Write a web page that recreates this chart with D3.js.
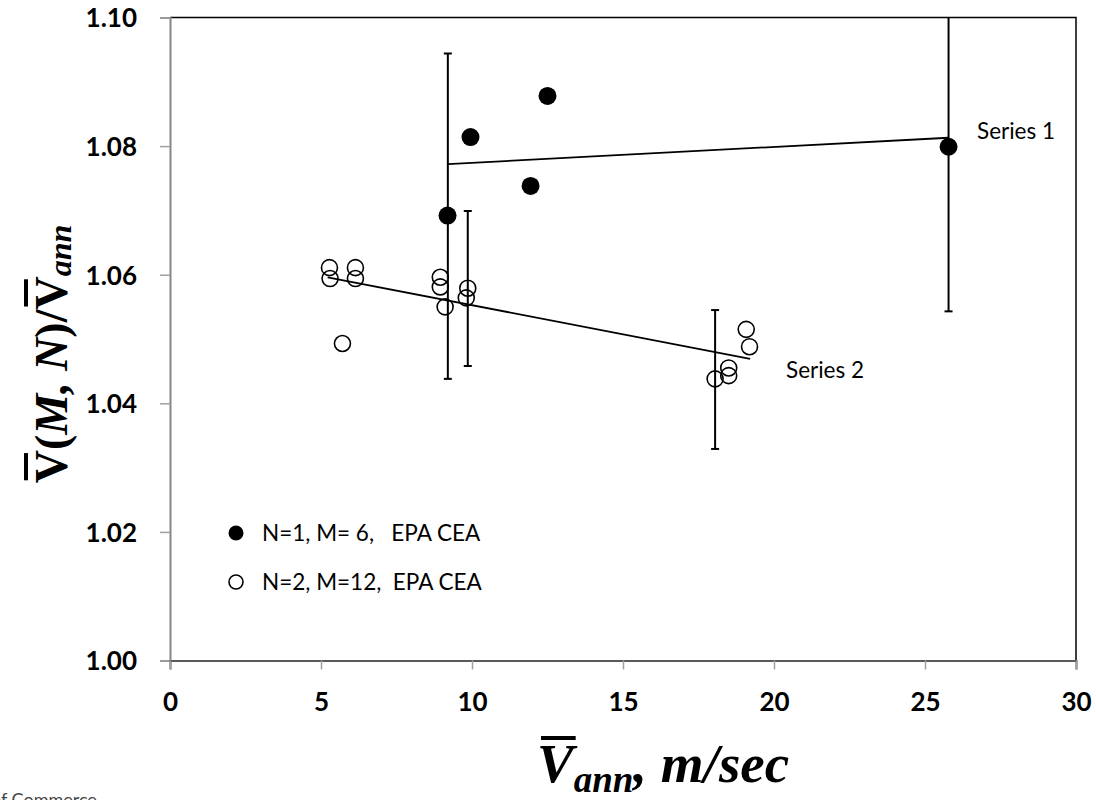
<!DOCTYPE html>
<html>
<head>
<meta charset="utf-8">
<script src="https://cdn.jsdelivr.net/npm/d3@7"></script>
<style>
  body { margin: 0; background: #fff; }
  svg { display: block; }
  .tick-label { font-family: Lato, "Open Sans", sans-serif; font-weight: bold; font-size: 26px; fill: #000; }
  .note { font-family: Lato, "Open Sans", sans-serif; font-size: 22.5px; fill: #000; white-space: pre; }
  .math { font-family: "Liberation Serif", "DejaVu Serif", serif; font-weight: bold; fill: #000; }
</style>
</head>
<body>
<svg id="chart" width="1096" height="800"></svg>
<script>
// values
const xTicks = [0, 5, 10, 15, 20, 25, 30];
const yTicks = [1.00, 1.02, 1.04, 1.06, 1.08, 1.10];

// N=1, M=6 (filled)
const s1X = [9.19, 9.95, 11.94, 12.5, 25.78];
const s1Y = [1.0692, 1.0814, 1.0738, 1.0878, 1.0799];
// N=2, M=12 (open)
const s2X = [5.28, 5.30, 6.14, 6.14, 5.71, 8.95, 8.95, 9.11, 9.86, 9.81, 19.08, 19.19, 18.5, 18.5, 18.05];
const s2Y = [1.0611, 1.0594, 1.0611, 1.0594, 1.0493, 1.0596, 1.0581, 1.0550, 1.0579, 1.0564, 1.0515, 1.0488, 1.0455, 1.0443, 1.0438];

// error bars
const err1X = [9.2, 25.78];
const err1Lo = [1.0438, 1.0543];
const err1Hi = [1.0944, 1.1055];
const err2X = [9.86, 18.05];
const err2Lo = [1.0458, 1.0329];
const err2Hi = [1.0699, 1.0545];

// trend lines (end points)
const trend1X = [9.2, 25.78];
const trend1Y = [1.0772, 1.0813];
const trend2X = [5.22, 19.21];
const trend2Y = [1.0596, 1.0469];

const legendLabels = ["N=1, M= 6,   EPA CEA", "N=2, M=12,  EPA CEA"];
const seriesNames = ["Series 1", "Series 2"];

const plot = {left: 170, right: 1076, top: 17.5, bottom: 660.5};

const svg = d3.select("#chart");

const x = d3.scaleLinear().domain([0, 30]).range([plot.left, plot.right]);
const y = d3.scaleLinear().domain([1.00, 1.10]).range([plot.bottom, plot.top]);

svg.append("clipPath").attr("id", "clip")
    .append("rect")
    .attr("x", plot.left).attr("y", plot.top)
    .attr("width", plot.right - plot.left).attr("height", plot.bottom - plot.top);

// frame: top and right borders
svg.append("path")
    .attr("d", `M${plot.left},${plot.top}H${plot.right}V${plot.bottom}`)
    .attr("fill", "none")
    .attr("stroke", "#000")
    .attr("stroke-width", 1.5);

// y axis
const yAxis = svg.append("g")
    .attr("transform", `translate(${plot.left},0)`)
    .call(d3.axisLeft(y).tickValues(yTicks).tickSize(10).tickFormat(d3.format(".2f")));
yAxis.select(".domain").attr("stroke", "#868686").attr("stroke-width", 2);
yAxis.selectAll(".tick line").attr("stroke", "#a0a0a0").attr("stroke-width", 1.5);
yAxis.selectAll(".tick text")
    .attr("class", "tick-label")
    .attr("x", -33)
    .attr("dy", "0.36em")
    .attr("font-family", null).attr("font-size", null);

// x axis
const xAxis = svg.append("g")
    .attr("transform", `translate(0,${plot.bottom})`)
    .call(d3.axisBottom(x).tickValues(xTicks).tickSize(9).tickFormat(d3.format("d")));
xAxis.select(".domain").attr("stroke", "#595959").attr("stroke-width", 2);
xAxis.selectAll(".tick line").attr("stroke", "#a0a0a0").attr("stroke-width", 1.5);
xAxis.selectAll(".tick text")
    .attr("class", "tick-label")
    .attr("y", 50)
    .attr("dy", 0)
    .attr("font-family", null).attr("font-size", null);

const g = svg.append("g").attr("clip-path", "url(#clip)");

// error bars
function drawErrors(xs, lo, hi) {
    const eb = g.append("g").selectAll("g")
        .data(xs.map((d, i) => ({x: d, lo: lo[i], hi: hi[i]})))
        .join("g");
    eb.append("line")
        .attr("x1", d => x(d.x)).attr("x2", d => x(d.x))
        .attr("y1", d => y(d.lo)).attr("y2", d => y(d.hi))
        .attr("stroke", "#000").attr("stroke-width", 2);
    ["lo", "hi"].forEach(k => {
        eb.append("line")
            .attr("x1", d => x(d.x) - 4).attr("x2", d => x(d.x) + 4)
            .attr("y1", d => y(d[k])).attr("y2", d => y(d[k]))
            .attr("stroke", "#000").attr("stroke-width", 2);
    });
}
drawErrors(err1X, err1Lo, err1Hi);
drawErrors(err2X, err2Lo, err2Hi);

// trend lines
const line = d3.line().x(d => x(d[0])).y(d => y(d[1]));
[[trend1X, trend1Y], [trend2X, trend2Y]].forEach(([xs, ys]) => {
    g.append("path")
        .datum(xs.map((d, i) => [d, ys[i]]))
        .attr("d", line)
        .attr("fill", "none")
        .attr("stroke", "#000")
        .attr("stroke-width", 1.8);
});

// open circles
g.append("g").selectAll("circle")
    .data(s2X.map((d, i) => [d, s2Y[i]]))
    .join("circle")
    .attr("cx", d => x(d[0])).attr("cy", d => y(d[1]))
    .attr("r", 8)
    .attr("fill", "none")
    .attr("stroke", "#000")
    .attr("stroke-width", 1.6);

// filled circles
g.append("g").selectAll("circle")
    .data(s1X.map((d, i) => [d, s1Y[i]]))
    .join("circle")
    .attr("cx", d => x(d[0])).attr("cy", d => y(d[1]))
    .attr("r", 9)
    .attr("fill", "#000");

// series labels
svg.append("text").attr("class", "note").attr("x", 977).attr("y", 139).text(seriesNames[0]);
svg.append("text").attr("class", "note").attr("x", 786).attr("y", 378).text(seriesNames[1]);

// legend
const legend = svg.append("g").attr("transform", "translate(236,533)");
legend.append("circle").attr("r", 7.5).attr("fill", "#000");
legend.append("circle").attr("cy", 49).attr("r", 7).attr("fill", "none").attr("stroke", "#000").attr("stroke-width", 1.6);
legend.selectAll("text.note")
    .data(legendLabels)
    .join("text")
    .attr("class", "note")
    .attr("x", 26)
    .attr("y", (d, i) => i * 49 + 8)
    .text(d => d);

// y axis title: V(M, N)/V_ann, rotated
const yTitle = svg.append("g").attr("transform", "translate(67,354) rotate(-90)");
const yt = yTitle.append("text").attr("class", "math").attr("text-anchor", "middle").attr("font-size", 46);
yt.append("tspan").text("V(");
yt.append("tspan").attr("font-style", "italic").text("M, N");
yt.append("tspan").text(")/V");
yt.append("tspan").attr("font-style", "italic").attr("font-size", 32).attr("dy", 4).text("ann");
[0, 8].forEach(i => {
    const b = yt.node().getExtentOfChar(i);
    yTitle.append("line")
        .attr("x1", b.x + 3).attr("x2", b.x + b.width - 3)
        .attr("y1", -41).attr("y2", -41)
        .attr("stroke", "#000").attr("stroke-width", 4);
});

// x axis title: V_ann, m/sec
const xTitle = svg.append("g").attr("transform", "translate(537,782)");
const xt = xTitle.append("text").attr("class", "math").attr("font-style", "italic").attr("font-size", 55);
xt.append("tspan").text("V");
xt.append("tspan").attr("font-size", 37).attr("dy", 10).text("ann");
xt.append("tspan").attr("dy", -10).text(", m/sec");
{
    const b = xt.node().getExtentOfChar(0);
    xTitle.append("line")
        .attr("x1", b.x + 4).attr("x2", b.x + b.width + 2)
        .attr("y1", -44).attr("y2", -44)
        .attr("stroke", "#000").attr("stroke-width", 4);
}

// source note, cut off at the bottom edge as in the reference
svg.append("text")
    .attr("x", -9).attr("y", 806)
    .attr("font-family", "Lato, sans-serif").attr("font-size", 18).attr("fill", "#444")
    .text("of Commerce");
</script>
</body>
</html>
